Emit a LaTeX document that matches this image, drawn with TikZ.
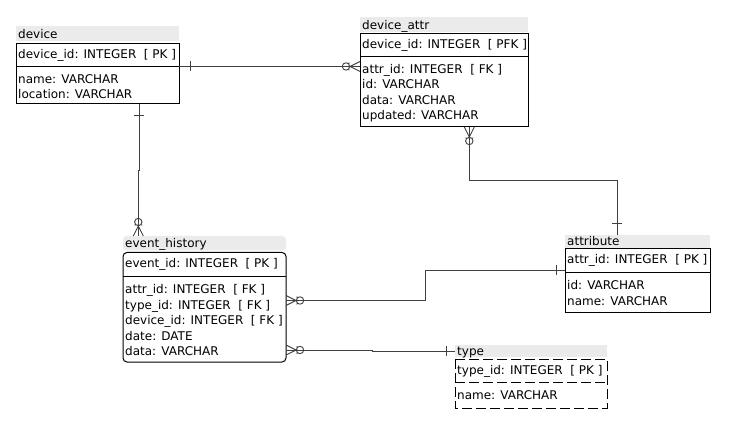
\documentclass[tikz,border=0pt]{standalone}
\usepackage{fontspec}
\setmainfont{DejaVu Sans}
\usetikzlibrary{calc}
\definecolor{hdrgray}{HTML}{EBEBEB}
\definecolor{linkgray}{HTML}{404040}

% crow's foot with circle and bar: #1 = end point on the table edge,
% (#2,#3) = unit direction pointing away from the table
\newcommand\crowfoot[3]{%
  \draw[conn] ($(#1)+({10*(#2)},{10*(#3)})$) -- ($(#1)+({5*(#3)},{5*(#2)})$)
              ($(#1)+({10*(#2)},{10*(#3)})$) -- ($(#1)-({5*(#3)},{5*(#2)})$)
              ($(#1)+({11*(#2)-4*(#3)},{11*(#3)+4*(#2)})$) -- ($(#1)+({11*(#2)+4*(#3)},{11*(#3)-4*(#2)})$)
              ($(#1)+({14*(#2)},{14*(#3)})$) circle[radius=3.7pt];
}
% single bar across a connector: #1 = centre, (#2,#3) = connector direction
\newcommand\onebar[3]{%
  \draw[conn] ($(#1)+({5*(#3)},{5*(#2)})$) -- ($(#1)-({5*(#3)},{5*(#2)})$);
}

\begin{document}
\begin{tikzpicture}[x=1pt,y=-1pt,
  font=\fontsize{12}{14}\selectfont,
  txt/.style={anchor=base west, inner sep=0pt},
  frame/.style={draw=black, line width=1pt},
  hdr/.style={fill=hdrgray, draw=none},
  conn/.style={draw=linkgray, line width=0.9pt}]
\useasboundingbox (0,0) rectangle (738,435);

% ---------- device ----------
\fill[hdr] (16,26.5) rectangle (179,41.5);
\node[txt] (dev-t) at (18,39) {device};
\draw[frame] (16,43.5) rectangle (179,104);
\draw[frame] (16,66.5) -- (179,66.5);
\node[txt] (dev-k) at (18,58.5) {device\_id: INTEGER\ \ [ PK ]};
\node[txt] (dev-f1) at (18,83.5) {name: VARCHAR};
\node[txt] (dev-f2) at (18,99) {location: VARCHAR};

% ---------- device_attr ----------
\fill[hdr] (360,17) rectangle (528,32.5);
\node[txt] (da-t) at (362,30) {device\_attr};
\draw[frame] (360,34) rectangle (528,127);
\draw[frame] (360,56.5) -- (528,56.5);
\node[txt] (da-k) at (362,48.5) {device\_id: INTEGER\ \ [ PFK ]};
\node[txt] (da-f1) at (362,73.5) {attr\_id: INTEGER\ \ [ FK ]};
\node[txt] (da-f2) at (362,89) {id: VARCHAR};
\node[txt] (da-f3) at (362,104.5) {data: VARCHAR};
\node[txt] (da-f4) at (362,120) {updated: VARCHAR};

% ---------- event_history ----------
\fill[hdr, rounded corners=4pt] (123,236) rectangle (286,250.5);
\node[txt] (eh-t) at (125,248) {event\_history};
\draw[frame, rounded corners=4pt] (123,252.5) rectangle (286,362);
\draw[frame] (123,276.5) -- (286,276.5);
\node[txt] (eh-k) at (125,267.5) {event\_id: INTEGER\ \ [ PK ]};
\node[txt] (eh-f1) at (125,293.5) {attr\_id: INTEGER\ \ [ FK ]};
\node[txt] (eh-f2) at (125,309) {type\_id: INTEGER\ \ [ FK ]};
\node[txt] (eh-f3) at (125,324.5) {device\_id: INTEGER\ \ [ FK ]};
\node[txt] (eh-f4) at (125,340) {date: DATE};
\node[txt] (eh-f5) at (125,355.5) {data: VARCHAR};

% ---------- attribute ----------
\fill[hdr] (565,235) rectangle (710,248);
\node[txt] (at-t) at (567,245.5) {attribute};
\draw[frame] (565,249) rectangle (710,312);
\draw[frame] (565,273) -- (710,273);
\node[txt] (at-k) at (567,264) {attr\_id: INTEGER\ \ [ PK ]};
\node[txt] (at-f1) at (567,290) {id: VARCHAR};
\node[txt] (at-f2) at (567,305.5) {name: VARCHAR};

% ---------- type ----------
\fill[hdr] (455,345) rectangle (607,357);
\node[txt] (ty-t) at (457,355) {type};
\draw[frame, dash pattern=on 10pt off 4pt] (455,359) rectangle (607,408);
\draw[frame, dash pattern=on 10pt off 4pt] (455,382) -- (607,382);
\node[txt] (ty-k) at (457,374) {type\_id: INTEGER\ \ [ PK ]};
\node[txt] (ty-f1) at (457,399) {name: VARCHAR};

% ---------- connector end points ----------
\coordinate (dev-e) at (179,66.5);
\coordinate (dev-s) at (139.3,104);
\coordinate (da-w) at (360,66.5);
\coordinate (da-s) at (469.3,127);
\coordinate (eh-n) at (138.3,236);
\coordinate (eh-e1) at (286,300.5);
\coordinate (eh-e2) at (286,350);
\coordinate (at-n) at (617.3,235);
\coordinate (at-w) at (565,270);
\coordinate (ty-w) at (455,351);

% device -> device_attr
\draw[conn] (dev-e) -- (da-w);
\onebar{$(dev-e)+(11,0)$}{1}{0}
\crowfoot{da-w}{-1}{0}

% device -> event_history
\draw[conn] (dev-s) -- ++(0,66) -- ++(-1,0) -- (eh-n);
\onebar{$(dev-s)+(0,11)$}{0}{1}
\crowfoot{eh-n}{0}{-1}

% attribute -> device_attr
\draw[conn] (da-s) -- ++(0,53) -| (at-n);
\onebar{$(at-n)+(0,-12)$}{0}{1}
\crowfoot{da-s}{0}{1}

% attribute -> event_history
\draw[conn] (eh-e1) -- ++(139,0) |- (at-w);
\onebar{$(at-w)+(-9,0)$}{1}{0}
\crowfoot{eh-e1}{1}{0}

% type -> event_history
\draw[conn] (eh-e2) -- ++(86,0) -- ++(0,1) -- (ty-w);
\onebar{$(ty-w)+(-8.5,0)$}{1}{0}
\crowfoot{eh-e2}{1}{0}
\end{tikzpicture}
\end{document}
